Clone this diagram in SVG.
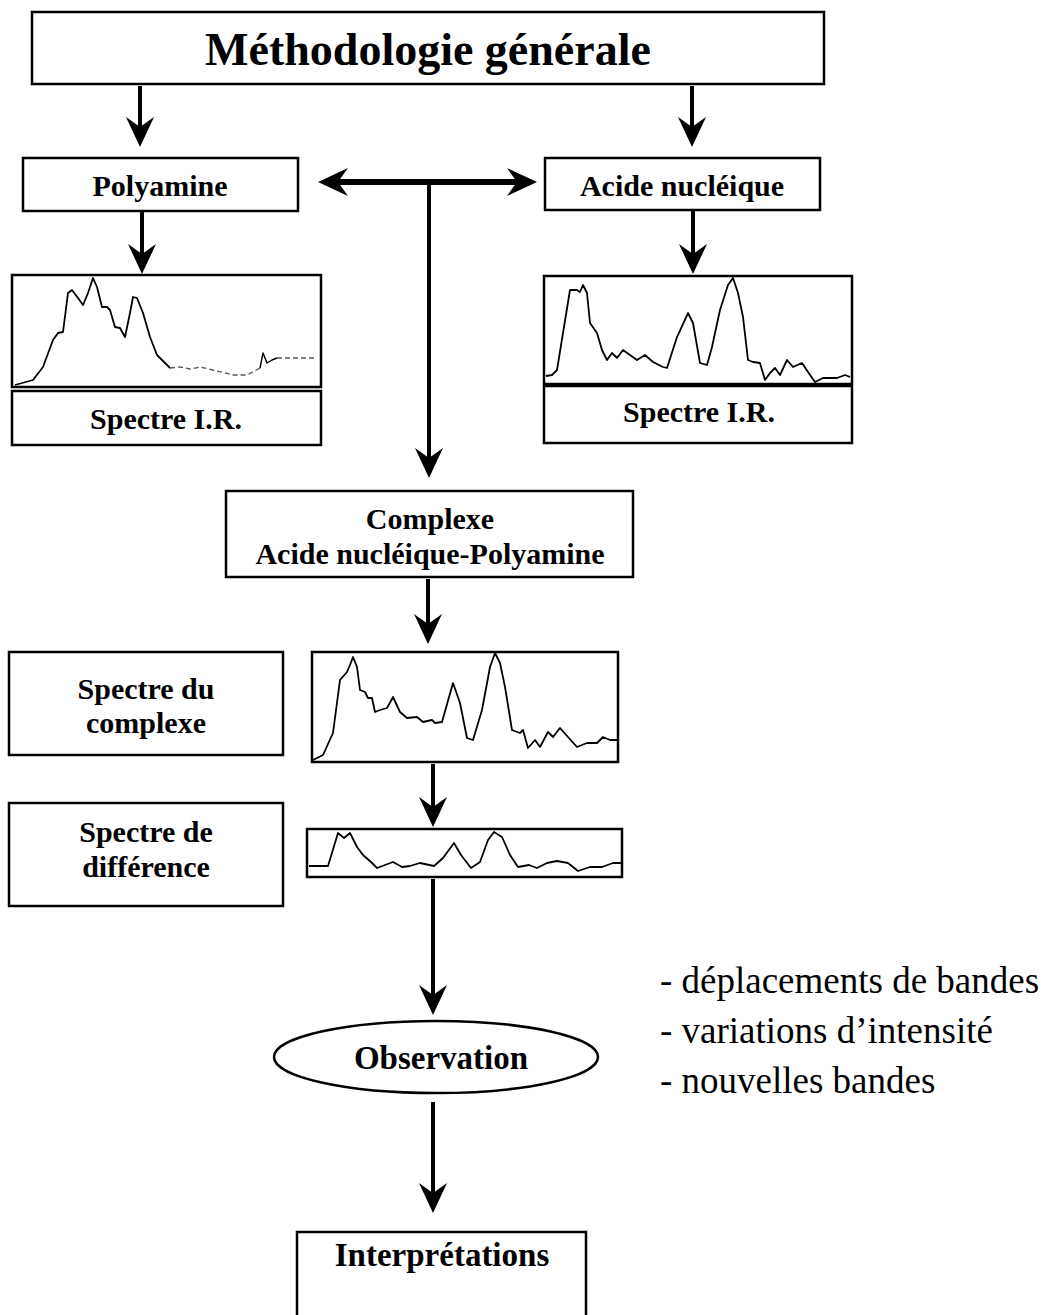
<svg xmlns="http://www.w3.org/2000/svg" width="1056" height="1315" viewBox="0 0 1056 1315">
<style>
.box{fill:#fff;stroke:#000;stroke-width:2.5}
.lbl{font-family:"Liberation Serif","Times New Roman",serif;font-weight:bold;font-size:30px;text-anchor:middle;fill:#000}
.spec{fill:none;stroke:#000;stroke-width:1.8;stroke-linejoin:round}
.faint{fill:none;stroke:#555;stroke-width:1.3;stroke-dasharray:5 3}
.con{stroke:#000;stroke-width:4;fill:none}
.note{font-family:"Liberation Serif","Times New Roman",serif;font-size:37px;fill:#000}
</style>
<defs>
<marker id="ah" viewBox="0 0 30 28" refX="10" refY="14" markerWidth="30" markerHeight="28" markerUnits="userSpaceOnUse" orient="auto-start-reverse">
<path d="M0,0 L30,14 L0,28 L10,14 Z" fill="#000"/>
</marker>
</defs>
<rect width="1056" height="1315" fill="#fff"/>

<g id="title">
<rect class="box" x="32" y="12" width="792" height="72"/>
<text x="428" y="65" class="lbl" style="font-size:46px">Méthodologie générale</text>
</g>

<g id="polyamine">
<rect class="box" x="23" y="158" width="275" height="53"/>
<text x="160" y="196" class="lbl">Polyamine</text>
</g>

<g id="acide">
<rect class="box" x="545" y="158" width="275" height="52"/>
<text x="682" y="196" class="lbl">Acide nucléique</text>
</g>

<g id="spectre-polyamine">
<rect class="box" x="12" y="275" width="309" height="112"/>
<polyline class="spec" points="15,385 33,380 43,367 53,340 58,333 63,332 68,293 72,290 78,298 83,305 88,293 93,278 97,287 102,307 107,307 110,310 115,327 120,328 125,337 130,313 133,297 137,298 143,313 150,337 157,355 170,368"/>
<polyline class="faint" points="170,368 180,367 190,369 200,367 213,370 233,375 247,375 260,368"/>
<polyline class="spec" style="stroke-width:1.4" points="260,368 263,353 267,363 272,360 277,358"/>
<polyline class="faint" points="277,358 290,358 317,358"/>
<rect class="box" x="12" y="391" width="309" height="54"/>
<text x="166" y="429" class="lbl">Spectre I.R.</text>
</g>

<g id="spectre-acide">
<rect class="box" x="544" y="276" width="308" height="167"/>
<line x1="544" y1="385" x2="852" y2="385" stroke="#000" stroke-width="4.5"/>
<polyline class="spec" points="546,376 552,375 557,370 563,333 570,290 577,290 580,292 583,285 587,293 590,323 597,333 602,350 607,360 612,353 617,358 623,350 630,355 637,360 645,355 653,362 663,367 667,368 677,337 688,313 693,323 700,363 707,365 712,347 720,310 728,285 733,278 738,293 743,317 748,360 753,362 760,363 765,380 770,373 775,368 780,375 787,360 793,367 802,363 808,372 815,382 823,378 837,378 845,375 850,377"/>
<text x="699" y="422" class="lbl">Spectre I.R.</text>
</g>

<g id="complexe">
<rect class="box" x="226" y="491" width="407" height="86"/>
<text x="430" y="529" class="lbl">Complexe</text>
<text x="430" y="564" class="lbl">Acide nucléique-Polyamine</text>
</g>

<g id="spectre-complexe-label">
<rect class="box" x="9" y="652" width="274" height="103"/>
<text x="146" y="699" class="lbl">Spectre du</text>
<text x="146" y="733" class="lbl">complexe</text>
</g>

<g id="spectre-complexe">
<rect class="box" x="312" y="652" width="306" height="110"/>
<polyline class="spec" points="313,760 323,755 333,733 340,680 347,672 350,665 353,657 357,667 360,690 365,692 368,698 372,698 375,712 380,710 387,708 393,697 400,712 407,718 417,717 423,722 432,720 435,723 442,722 453,683 460,703 467,738 473,740 482,710 490,667 495,653 500,663 505,687 512,730 520,733 523,730 528,748 535,740 540,747 548,732 553,737 560,728 568,737 577,747 587,743 597,743 603,737 610,740 617,740"/>
</g>

<g id="spectre-difference-label">
<rect class="box" x="9" y="803" width="274" height="103"/>
<text x="146" y="842" class="lbl">Spectre de</text>
<text x="146" y="877" class="lbl">différence</text>
</g>

<g id="spectre-difference">
<rect class="box" x="307" y="829" width="315" height="48"/>
<polyline class="spec" points="309,866 328,866 338,833 344,838 350,833 357,847 363,855 371,862 377,868 385,865 393,862 402,867 410,866 420,863 434,866 443,858 454,843 461,855 471,868 480,862 488,840 494,832 502,837 510,855 518,867 529,865 537,868 547,863 557,861 568,863 578,871 590,867 602,867 613,863 621,863"/>
</g>

<g id="observation">
<ellipse cx="436" cy="1057" rx="162" ry="36" fill="#fff" stroke="#000" stroke-width="2.5"/>
<text x="441" y="1069" class="lbl" style="font-size:33px">Observation</text>
</g>

<g id="notes">
<text x="660" y="993" class="note">- déplacements de bandes</text>
<text x="660" y="1043" class="note">- variations d’intensité</text>
<text x="660" y="1093" class="note">- nouvelles bandes</text>
</g>

<g id="interpretations">
<path d="M297,1315 V1232 H586 V1315" fill="#fff" stroke="#000" stroke-width="2.5"/>
<text x="442" y="1266" class="lbl" style="font-size:33px">Interprétations</text>
</g>

<g id="connectors">
<line class="con" x1="140" y1="86" x2="140" y2="127" marker-end="url(#ah)"/>
<line class="con" x1="692" y1="86" x2="692" y2="127" marker-end="url(#ah)"/>
<line class="con" x1="142" y1="212" x2="142" y2="254" marker-end="url(#ah)"/>
<line class="con" x1="693" y1="211" x2="693" y2="254" marker-end="url(#ah)"/>
<line class="con" style="stroke-width:6" x1="338" y1="182" x2="517" y2="182" marker-start="url(#ah)" marker-end="url(#ah)"/>
<line class="con" x1="429" y1="182" x2="429" y2="458" marker-end="url(#ah)"/>
<line class="con" x1="428" y1="579" x2="428" y2="624" marker-end="url(#ah)"/>
<line class="con" x1="433" y1="764" x2="433" y2="807" marker-end="url(#ah)"/>
<line class="con" x1="433" y1="879" x2="433" y2="995" marker-end="url(#ah)"/>
<line class="con" x1="433" y1="1102" x2="433" y2="1193" marker-end="url(#ah)"/>
</g>
</svg>
